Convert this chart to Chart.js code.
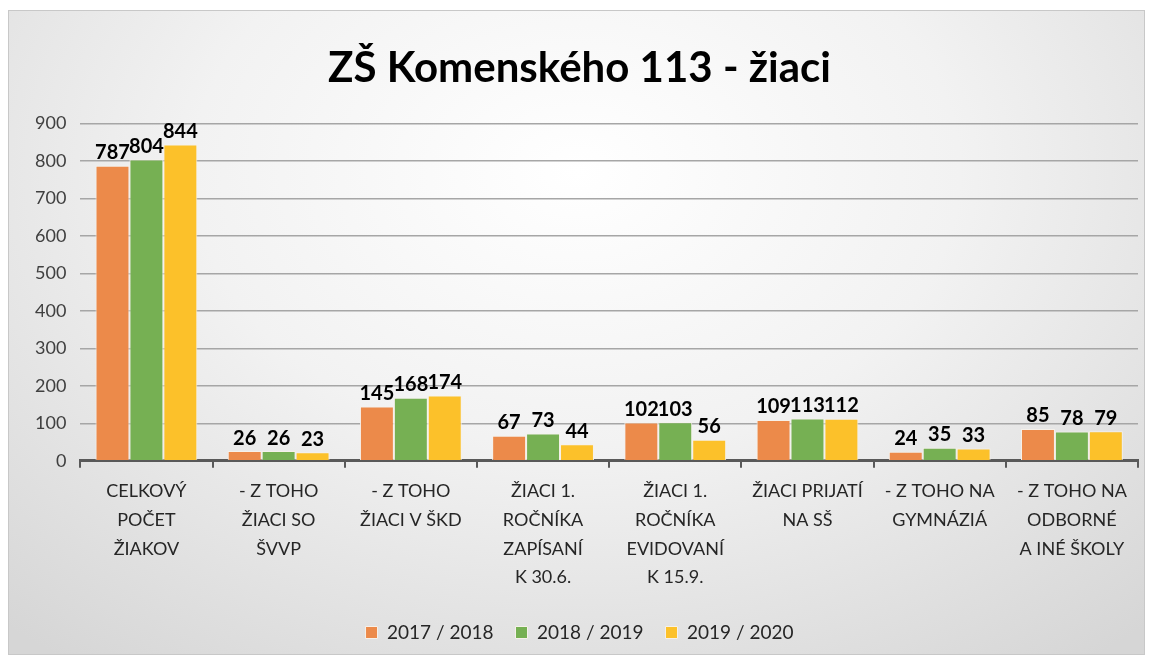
<!DOCTYPE html>
<html>
<head>
<meta charset="utf-8">
<script src="https://cdn.jsdelivr.net/npm/chart.js@4"></script>
<style>
  body { margin: 0; background: #ffffff; }
  #frame {
    position: absolute; left: 8px; top: 10px; width: 1137px; height: 645px;
    border: 1px solid #c8c8c8; box-sizing: border-box;
    background: radial-gradient(ellipse 75% 95% at 50% 25%, #ffffff 0%, #f2f2f2 45%, #d6d6d6 100%);
  }
  #frame canvas { position: absolute; left: 0; top: 0; }
</style>
</head>
<body>
<div id="frame"><canvas id="ChartCanvas" width="1135" height="643"></canvas></div>
<script>
var categories = [
    ["CELKOVÝ", "POČET", "ŽIAKOV"],
    ["- Z TOHO", "ŽIACI SO", "ŠVVP"],
    ["- Z TOHO", "ŽIACI V ŠKD"],
    ["ŽIACI 1.", "ROČNÍKA", "ZAPÍSANÍ", "K 30.6."],
    ["ŽIACI 1.", "ROČNÍKA", "EVIDOVANÍ", "K 15.9."],
    ["ŽIACI PRIJATÍ", "NA SŠ"],
    ["- Z TOHO NA", "GYMNÁZIÁ"],
    ["- Z TOHO NA", "ODBORNÉ", "A INÉ ŠKOLY"]
];
var year2017 = [787, 26, 145, 67, 102, 109, 24, 85];
var year2018 = [804, 26, 168, 73, 103, 113, 35, 78];
var year2019 = [844, 23, 174, 44, 56, 112, 33, 79];
var seriesNames = ["2017 / 2018", "2018 / 2019", "2019 / 2020"];
var yTicks = [0, 100, 200, 300, 400, 500, 600, 700, 800, 900];

var fontFamily = "Lato, 'Open Sans', sans-serif";

var valueLabels = { //draw the bold values above each bar
    id: "valueLabels",
    afterDatasetsDraw: function(chart)
    {
        var ctx = chart.ctx;
        ctx.save();
        ctx.font = "bold 20px " + fontFamily;
        ctx.fillStyle = "#000000";
        ctx.textAlign = "center";
        ctx.textBaseline = "bottom";
        chart.data.datasets.forEach(function(ds, i)
        {
            chart.getDatasetMeta(i).data.forEach(function(bar, j)
            {
                ctx.fillText(ds.data[j], bar.x, bar.y - 3);
            });
        });
        ctx.restore();
    }
};

var config =
{
    type: "bar",
    data:
    {
        labels: categories,
        datasets:
        [
            { label: seriesNames[0], data: year2017, backgroundColor: "#ec8a4a", borderColor: "#f6f1ea", borderWidth: 1 },
            { label: seriesNames[1], data: year2018, backgroundColor: "#76b053", borderColor: "#f6f1ea", borderWidth: 1 },
            { label: seriesNames[2], data: year2019, backgroundColor: "#fcc12a", borderColor: "#f6f1ea", borderWidth: 1 }
        ]
    },
    options:
    {
        responsive: false,
        animation: false,
        categoryPercentage: 0.77,
        barPercentage: 1.0,
        layout: { padding: { left: 12, right: 6, top: 6, bottom: 2 } },
        plugins:
        {
            title:
            {
                display: true,
                text: "ZŠ Komenského 113 - žiaci",
                color: "#000000",
                font: { family: fontFamily, size: 42, weight: "bold" },
                padding: { top: 26, bottom: 30 }
            },
            legend:
            {
                position: "bottom",
                labels:
                {
                    color: "#262626",
                    font: { family: fontFamily, size: 19 },
                    boxWidth: 12,
                    boxHeight: 12,
                    padding: 22
                }
            },
            tooltip: { enabled: false }
        },
        scales:
        {
            y:
            {
                min: 0,
                max: 900,
                afterBuildTicks: function(axis) { axis.ticks = yTicks.map(function(v) { return { value: v }; }); },
                ticks: { color: "#404040", font: { family: fontFamily, size: 18 }, padding: 14 },
                grid: { color: "#a6a6a6", lineWidth: 1.5, drawTicks: false },
                border: { display: false }
            },
            x:
            {
                ticks: { color: "#262626", font: { family: fontFamily, size: 18, lineHeight: 1.6 }, maxRotation: 0, autoSkip: false, padding: 9 },
                grid: { offset: true, drawOnChartArea: false, color: "#595959", lineWidth: 2, tickLength: 7 },
                border: { color: "#595959", width: 3 }
            }
        }
    },
    plugins: [valueLabels]
};

var createdChart = new Chart(document.getElementById("ChartCanvas").getContext("2d"), config);
</script>
</body>
</html>
